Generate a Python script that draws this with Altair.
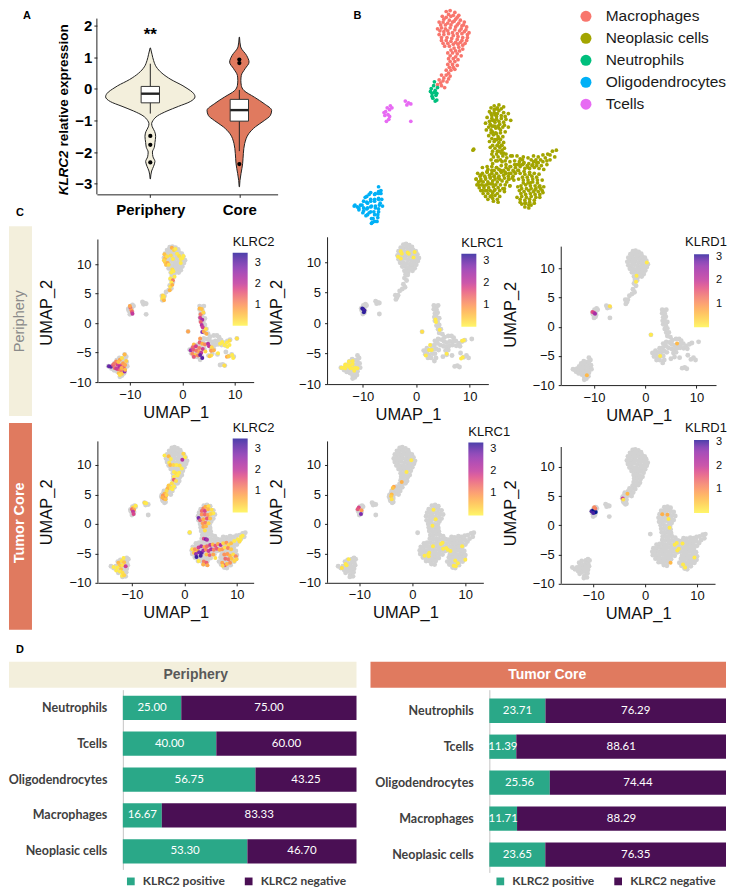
import altair as alt
import pandas as pd

# ---------- panel A ----------
VIOLIN_P_Y = [1.3,1.1,.9,.7,.5,.3,.1,0,-.1,-.25,-.4,-.55,-.7,-.85,-1,-1.1,-1.2,-1.35,-1.5,-1.7,-1.85,-2.0,-2.15,-2.3,-2.45,-2.6,-2.85]
VIOLIN_P_W = [.002,.019,.037,.067,.131,.232,.367,.423,.472,.502,.449,.318,.187,.082,.03,.015,.022,.049,.06,.052,.045,.024,.03,.052,.037,.015,.002]
VIOLIN_C_Y = [1.64,1.33,1.06,.85,.64,.43,.27,.11,-.05,-.26,-.47,-.68,-.84,-1,-1.2,-1.42,-1.73,-2.05,-2.37,-2.68,-2.9,-3.1]
VIOLIN_C_W = [.002,.015,.082,.109,.064,.022,.017,.022,.052,.169,.281,.363,.348,.281,.18,.105,.06,.045,.037,.019,.007,.002]
BOX = [dict(c=1,q1=-.44,q3=.08,med=-.15,lo=-.78,hi=.8,w=.103),dict(c=2,q1=-1.02,q3=-.33,med=-.67,lo=-1.97,hi=-.03,w=.103)]
OUTLIERS = [(1,-1.49),(1,-1.77),(1,-2.33),(2,.93),(2,.82),(2,-2.38)]

# ---------- UMAP cell coordinates ----------
MACRO_TOP = [(-2.4,12.9),(-1.9,13),(-1.3,12.8),(-0.8,12.5),(-2.9,12.4),(-2.4,12.3),(-1.8,12.4),(-1.2,12.1),(-0.6,12),(-0.1,11.8),(-3.3,11.8),(-2.8,11.8),(-2.2,11.7),(-1.6,11.8),(-1,11.5),(-0.4,11.4),(0.2,11.3),(-3.5,11.1),(-3,11.2),(-2.5,11.1),(-1.9,11.2),(-1.3,11),(-0.7,10.9),(-0.1,10.8),(0.5,10.7),(-3.3,10.5),(-2.7,10.5),(-2.1,10.6),(-1.5,10.4),(-0.9,10.3),(-0.3,10.2),(0.3,10.2),(-3,9.9),(-2.4,9.9),(-1.8,9.8),(-1.2,9.7),(-0.6,9.7),(0,9.6),(-2.6,9.3),(-2,9.3),(-1.4,9.1),(-0.8,9.2),(-0.3,9)]
MACRO_TAIL_CORE = [(-2.2,8.6),(-1.6,8.6),(-1,8.5),(-0.5,8.3),(-2.1,8),(-1.5,8),(-0.9,7.9),(-2.2,7.4),(-1.6,7.4),(-1,7.3),(-2.4,6.8),(-1.8,6.8),(-1.3,6.9),(-3,6.3),(-2.4,6.3),(-1.9,6.2),(-3.3,5.8),(-2.8,5.7),(-2.3,5.6),(-3.5,5.3),(-3,5.2),(-2.6,5)]
MACRO_TAIL_PERI = [(-2.2,8.6),(-1.7,9),(-1.1,8.9),(-0.7,8.6),(-1.5,8.4),(-2,8),(-1.6,7.9),(-2.2,7.4),(-1.8,7),(-2.4,6.4),(-2.1,5.9),(-2.6,5.6),(-3.1,5.3)]
MACRO_EXTRA_B = [(-2.1,12.6),(-1.5,12.5),(-1,12.3),(-2.7,12.1),(-2,12),(-1.4,11.9),(-0.8,11.7),(-0.2,11.5),(-3.1,11.5),(-2.5,11.5),(-1.8,11.5),(-1.2,11.3),(-0.5,11.1),(0.1,11),(-3.2,10.9),(-2.7,10.8),(-2.2,10.9),(-1.6,10.7),(-1,10.6),(-0.4,10.6),(0.3,10.5),(-3,10.2),(-2.3,10.2),(-1.7,10.1),(-1,10),(-0.4,9.9),(0.2,9.9),(-2.8,9.6),(-2.2,9.6),(-1.5,9.5),(-0.9,9.5),(-0.3,9.4),(-1.8,8.9),(-1.2,8.8),(-0.7,8.8),(-1.9,8.3),(-1.2,8.2),(-1.9,7.7),(-1.3,7.7),(-2,7.1),(-1.5,7.1),(-2.1,6.5),(-2.7,6),(-2.1,5.9),(-3.1,5.5)]
NEUT = [(-4,5.2),(-4.3,4.9),(-3.8,4.7),(-4.2,4.4),(-3.7,4.2),(-4.1,3.9),(-3.6,3.7),(-3.9,4.5),(-4.4,4.6),(-3.5,5),(-3.9,5.6),(-3.6,4.4),(-4.2,4.1),(-3.8,3.6)]
NEUT_PERI = [(-3.9,4.6),(-3.6,4.2),(-3.4,4.6),(-3.8,3.9)]
TCELL = [(-10.1,2.5),(-9.8,2.2),(-9.6,2.7),(-10.3,2.4),(-9.9,2.9),(-9.5,3.1),(-10.2,2.1),(-9.7,1.7),(-9.3,2.9),(-9.6,2.0),(-10,1.5),(-7.6,3.6),(-7.2,3.4),(-7.4,3.2),(-6.9,3.3),(-6.9,1.5)]
OLIGO_PERI = [(-14.1,-7.3),(-13.7,-7.4),(-13.3,-7.2),(-13.5,-7.7),(-12.9,-6.8),(-12.9,-7.5),(-13,-8),(-12.5,-6.3),(-12.4,-7),(-12.5,-7.6),(-12.4,-8.2),(-12,-5.9),(-12,-6.6),(-11.9,-7.3),(-12,-7.9),(-11.9,-8.6),(-11.5,-6.1),(-11.5,-6.8),(-11.4,-7.5),(-11.5,-8.2),(-11.5,-8.9),(-11,-5.3),(-11,-6),(-11,-6.6),(-10.9,-7.2),(-11,-7.9),(-11.1,-8.5),(-10.6,-6.6),(-10.5,-7.3),(-11.9,-9.1),(-10.7,-5.7)]
OLIGO_CORE = [(-14,-7.2),(-13.5,-7.5),(-13.1,-7.2),(-12.9,-7.8),(-12.5,-6.9),(-12.4,-7.5),(-12.7,-6.4),(-12.2,-6.1),(-12,-6.8),(-12,-7.4),(-12.2,-8),(-11.7,-8.6),(-11.4,-6),(-11.5,-6.6),(-11.4,-7.3),(-11.6,-7.9),(-11.2,-8.9),(-11.1,-8.2),(-11,-6.5),(-10.8,-7),(-11,-5.8),(-11,-7.6),(-12.6,-8.3),(-10.7,-6),(-11.8,-9)]
NEO_PERI = [(3.3,2.9),(3.7,2.7),(4.1,2.9),(3.3,2.3),(3.8,2.2),(3.5,1.6),(4,1.7),(3.4,1),(3.8,1),(4.3,.8),(3.5,.4),(4,.2),(3.8,-.4),(4.3,-.3),(4.1,-1),(4.6,-1),(4.3,-1.6),(4.9,-1.8),(5.3,-2.3),(6,-2.1),(6.6,-2.1),(7,-2.4),(3.5,-2.9),(4.1,-2.6),(4.7,-2.7),(5.2,-3),(5.7,-3.2),(6.3,-3),(6.9,-3),(7.4,-2.9),(8,-3.3),(8.6,-3),(9.1,-2.8),(2.8,-3.7),(3.4,-3.6),(4,-3.3),(4.5,-3.6),(5.1,-3.8),(5.6,-3.9),(6.2,-3.7),(6.8,-3.6),(7.5,-3.7),(8.2,-3.8),(2,-4.1),(1.4,-4.5),(2,-4.7),(2.6,-4.4),(3.2,-4.3),(3.7,-4.2),(4.2,-4.4),(1.7,-5.1),(2.4,-5.2),(3,-5),(3.5,-5),(2.2,-5.7),(2.8,-5.7),(3.4,-6.2),(3.7,-5.7),(5.5,-4.5),(6,-4.4),(5.7,-5.2),(5,-5.5),(6.7,-5.3),(8.3,-4.9),(8.9,-5.6),(9.4,-5.3),(9.8,-5.7),(7.2,-7.1),(7.7,-7),(8.1,-7.2),(10.4,-2.6),(1.1,-1.4)]
NEO_HEAD = [(3.7,3.1),(4.3,3.2),(4.9,3),(3.1,2.5),(3.7,2.4),(4.3,2.6),(4.9,2.4),(5.5,2.3),(2.8,1.9),(3.4,1.8),(4,2),(4.6,1.8),(5.2,1.7),(5.8,1.6),(2.6,1.3),(3.2,1.2),(3.8,1.4),(4.4,1.2),(5,1.1),(5.5,.9),(2.7,.6),(3.3,.6),(3.9,.8),(4.5,.6),(5.1,.4),(3,.0),(3.6,.1),(4.2,-.1),(4.8,-.1),(3.1,-.6),(3.7,-.6),(4.3,-.7),(4.9,-.7),(3.2,-1.2),(3.8,-1.3),(4.4,-1.2),(5,-1.3),(1,-1.5)]
NEO_BODY = [(3.4,-1.9),(4,-1.9),(4.6,-1.8),(5.2,-1.9),(5.8,-2.1),(7.4,-2.2),(8,-2.3),(8.7,-2.1),(9.3,-2.2),(9.9,-2),(10.5,-1.9),(11.1,-1.6),(11.6,-1.5),(11.4,-2.2),(10.8,-2.5),
 (3.3,-2.5),(3.9,-2.6),(4.5,-2.5),(5.1,-2.6),(5.7,-2.7),(6.3,-2.6),(6.9,-2.7),(7.5,-2.8),(8.1,-2.9),(8.7,-2.7),(9.3,-2.8),(9.9,-2.7),(10.4,-3),
 (2.2,-3.3),(2.8,-3.2),(3.4,-3.2),(4,-3.3),(4.6,-3.1),(5.2,-3.3),(5.8,-3.2),(6.4,-3.3),(7,-3.2),(7.6,-3.4),(8.2,-3.4),(8.8,-3.3),(9.4,-3.4),(10,-3.5),
 (1.6,-3.9),(2.2,-3.9),(2.8,-3.8),(3.4,-3.9),(4,-3.9),(4.6,-3.8),(5.2,-3.9),(5.8,-3.9),(6.4,-3.9),(7,-3.9),(7.6,-4),(8.2,-4),(8.8,-3.9),(9.4,-4),
 (1.4,-4.5),(2,-4.5),(2.6,-4.5),(3.2,-4.4),(3.8,-4.5),(4.4,-4.5),(5,-4.4),(5.6,-4.5),(6.2,-4.6),(6.8,-4.5),(7.4,-4.6),(8,-4.6),(8.6,-4.5),(9.2,-4.6),(9.8,-4.6),
 (1.5,-5.1),(2.1,-5.1),(2.7,-5.1),(3.3,-5),(3.9,-5.1),(4.5,-5.1),(5.1,-5.1),(5.7,-5.2),(7.1,-5.2),(7.7,-5.1),(8.3,-5.2),(8.9,-5.2),(9.5,-5.2),(10,-5.3),
 (2,-5.7),(2.6,-5.7),(3.2,-5.7),(3.8,-5.6),(4.4,-5.7),(5,-5.8),(6.9,-5.7),(7.5,-5.8),(8.1,-5.7),(8.7,-5.8),(9.3,-5.8),(9.9,-5.9),
 (2.6,-6.3),(3.2,-6.3),(3.8,-6.2),(4.4,-6.3),(6.6,-6.4),(7.2,-6.3),(7.8,-6.4),(8.4,-6.3),(9,-6.4),(9.5,-6.4),
 (3.6,-6.8),(4.2,-6.9),(7,-6.9),(7.6,-7),(8.2,-6.9),(8.8,-7),(7.6,-7.4),(8.1,-7.5)]
NEO_EXTRA_B = [(2.9,-3.5),(3.7,-3.6),(4.3,-3.5),(4.9,-3.6),(5.5,-3.5),(6.1,-3.6),(6.7,-3.6),(1.9,-4.2),(2.5,-4.2),(3.1,-4.1),(3.7,-4.2),(4.3,-4.2),(4.9,-4.1),(5.5,-4.2),(6.1,-4.2),(7.3,-4.3),(7.9,-4.3),(8.5,-4.2),(9.1,-4.3),(1.7,-4.8),(2.3,-4.8),(2.9,-4.8),(3.5,-4.7),(4.1,-4.8),(4.7,-4.7),(5.3,-4.8),(7.4,-4.9),(8,-4.9),(8.6,-4.8),(9.2,-4.9),(1.8,-5.4),(2.4,-5.4),(3,-5.4),(3.6,-5.3),(4.2,-5.4),(4.8,-5.5),(7.2,-5.5),(7.8,-5.5),(8.4,-5.5),(9,-5.5),(9.6,-5.5),(2.3,-6),(2.9,-6),(3.5,-5.9),(4.1,-6),(7.1,-6),(7.7,-6.1),(8.3,-6),(8.9,-6.1),(9.5,-6.1),(2.9,-6.6),(3.5,-6.5),(4.1,-6.6),(7,-6.6),(7.6,-6.7),(8.2,-6.6),(8.8,-6.7),(8.4,-7.2),(7.3,-2.5),(8.4,-2.5),(9,-2.5),(9.6,-2.5),(10.2,-2.3),(10.8,-2),(6.6,-3),(7.3,-3),(7.9,-3.1),(8.5,-3.1),(9.1,-3.1),(9.7,-3.1),(3.6,-2.2),(4.2,-2.2),(4.8,-2.1),(3.5,-1.6),(4.1,-1.6),(4.7,-1.5),(3.5,-1),(4.1,-1),(4.7,-1),(3.4,-.3),(4,-.4),(4.5,-.4),(3.3,.3),(3.9,.3),(4.5,.3),(3,.9),(3.6,1),(4.2,1),(4.8,.9),(3.1,1.5),(3.7,1.6),(4.3,1.5),(4.9,1.4),(3.4,2.1),(4.1,2.3),(4.6,2.1),(5.1,2),(4,2.8),(4.6,2.8)]

KLRC2_PERI = [(-3.4,11.7,.5),(-3.3,11,.6),(-3.3,10.4,.4),(-3.1,9.9,.5),(-3.5,10.7,.3),(-2.9,11.3,.2),(-2.8,10.2,.7),(-2.6,9.9,.2),(-2,12.8,.7),(-1.6,12.4,.3),(-1.3,12.6,.1),(-1,11.8,.1),(-0.6,11.4,.2),(-0.3,10.9,.1),(0,11,.1),(0.2,11.4,.1),(-0.3,10.2,.1),(-1.8,10.9,.1),(-2.2,11.5,.2),(-1.9,9.1,.2),(-1.7,8.8,.1),(-2.1,8.6,.1),(-1.5,7.9,.1),(-2.3,7.6,.1),(-1.8,7.3,1.2),(-2.1,6.9,.1),(-2.3,6.2,.2),(-1.9,6.5,.7),(-2.4,5.6,.6),(-3.7,4.7,.3),(-3.8,4.2,.2),(-3.5,3.9,.6),(-3.5,4.5,.2),
 (-9.9,2.6,1.4),(-9.7,2.2,.9),(-9.6,1.9,1.6),(-9.5,1.6,2),(-10,2.9,.8),
 (3.3,2.5,.6),(3.7,2.4,.5),(3.5,1.5,1.2),(4,1.8,.3),(3.4,.9,1.9),(3.8,.6,2.4),(3.5,.2,1.5),(3.7,-.3,2.2),(3.9,-.7,1.9),(3.8,-1.5,2.8),(4.1,-1.4,.8),(4.5,-1,.2),(4.6,-1.8,.7),(1.1,-1.4,.8),
 (3.4,-2.6,.9),(2.2,-3.6,.6),(3.3,-3.3,1.5),(3.8,-3.5,.7),(4.3,-3.6,1.1),(4.9,-3.5,2.2),(5.1,-3.9,2),(5.6,-4.1,.3),(2,-4.1,1.4),(2.6,-3.9,1.9),(3.2,-4.2,1.2),(3.9,-4.4,1.9),(4.4,-4.8,.3),(1.6,-4.6,2.4),(2.1,-4.5,1.6),(2.7,-4.7,1.3),(3.2,-4.9,.8),(3.6,-5,2),(1.9,-5.2,1.1),(2.5,-5.4,.5),(3,-5.5,1.2),(3.4,-5.4,3),(3.8,-5.9,3.2),(2.2,-5.7,1.6),(5.5,-4.7,.9),(6,-4.6,.7),(5.5,-5.5,.2),(5.2,-5.6,.4),(6.8,-5.1,.1),(7.2,-3.5,.1),(7.6,-3.2,.1),(8,-3.7,.1),(8.5,-3.3,.1),(9,-3,.2),(8.6,-4,.1),(9,-3.7,.1),(10.4,-2.6,.2),(8.5,-5.7,.8),(8.8,-5.6,.4),(9.5,-5.4,.1),(9.7,-5.9,.1),(8,-7.2,.2),
 (-14,-7.3,3),(-13.6,-7.4,3.1),(-13.2,-7.1,1.6),(-12.9,-7.6,1.3),(-12.6,-6.5,1.1),(-12.4,-7,1.8),(-12.3,-7.8,1.5),(-12.1,-8.5,.5),(-11.9,-6.2,.8),(-11.8,-7.2,1.6),(-11.7,-8,1.2),(-11.5,-8.6,.4),(-11.3,-6.8,.9),(-11.2,-7.5,1.5),(-11,-8.2,2.6),(-10.9,-7.1,.8),(-10.7,-6.4,.4),(-11,-5.3,.6),(-11.5,-5.9,.2),(-12,-7.4,2.2),(-11.6,-7.6,.7),(-12.6,-7.7,1.9),(-13,-6.9,1.3),(-11.9,-8.8,.2),(-12.2,-6.6,.5),(-10.9,-7.9,.6)]
KLRC2_CORE = [(-3.8,11.6,.1),(-3,11.5,.6),(-2.6,11,.1),(-0.2,11.9,.3),(0.1,11.3,.1),(-0.4,10.9,2.2),(-2.9,10.4,.1),(-2.7,10,.6),(-2.1,10,.3),(-1.5,10,.1),(-0.9,9.9,.2),(-0.5,9.4,.1),(-2,8.8,.1),(-1.6,8.6,.2),(-1,8.7,.1),(-2,8,.1),(-1.3,8.2,.1),(-2,7.5,1.5),(-1.6,7.3,.2),(-2.4,6.9,.2),(-2,6.4,.1),(-3,6.5,.4),(-3.2,6,.6),(-2.6,6.1,.2),(-2.3,5.9,.1),(-3.4,5.6,.2),(-3.8,5.1,.6),(-4.1,4.8,1),(-3.6,4.7,.9),(-3.9,4.3,1.2),(-4.2,4.5,.7),(-3.6,4.2,.5),(-3.4,4.9,.3),
 (-9.8,2.8,.3),(-10,2.5,1.4),(-9.6,2.4,.7),(-9.8,2.1,2),(-9.7,1.7,1.8),(-9.3,3.1,.1),(-7.6,3.6,.2),(-7.3,3.5,.1),
 (-11.6,-5.8,.1),(-12,-6.3,.2),(-12.6,-6.6,.6),(-11.5,-6.5,.5),(-12.3,-7,.4),(-11.8,-7,.2),(-11.2,-7.2,1.9),(-12.8,-7.4,.1),(-13.5,-7.3,.1),(-12.1,-7.7,.5),(-12.3,-8.1,.1),(-11.8,-8.3,.2),(-11.9,-8.8,.1),(-11.5,-8.7,.3),(-13,-7.9,.1),
 (1,-1.4,.1),(3.6,2.6,1.2),(4,2.9,.7),(4.6,3,.2),(3.3,2.2,1.4),(3.9,2.2,1.8),(4.5,2.5,.6),(5.2,2.4,.2),(5.5,1.8,.1),(2.7,1,2.9),(3.3,1.6,1),(3.9,1.6,1.4),(4.5,1.5,.9),(5,1.7,.3),(3,.6,1.5),(3.6,.8,.7),(4.3,.9,1.6),(4.9,.9,.5),(3.5,.1,.9),(4,.2,1.2),(4.6,.1,.3),(3.6,-.5,.8),(4.1,-.4,.6),(3.9,-1.1,.2),(3.7,-2.5,1.8),(4.1,-2.6,3),(4.3,-2.7,2.4),
 (1.5,-4.3,.2),(2,-4.3,1),(2.5,-4.6,.7),(1.8,-4.9,.5),(2.7,-4,1.9),(3.2,-3.8,2.3),(3.8,-3.9,.8),(4.3,-3.8,1.4),(4.9,-3.6,2),(5.4,-3.5,.6),(5.9,-3.7,1.6),(6.4,-3.4,.8),(6.9,-3.6,2.2),(7.4,-3.3,.3),(8,-3.2,1),(8.4,-3.6,.3),(8.9,-3.3,.5),(2.2,-5.1,2.6),(2.8,-4.8,2.8),(3.3,-4.9,3.2),(3.1,-5.4,3.3),(2.3,-5.6,3.4),(3.6,-4.5,2.5),(4.1,-4.4,1.1),(4.6,-4.6,1.9),(5.1,-4.3,2.3),(5.6,-4.4,1.2),(6.2,-4.2,1.6),(6.7,-4.4,.7),(7.2,-4.3,.9),(7.7,-4,.2),(8.3,-4.1,1.1),(8.9,-4.3,.4),(4.2,-5.2,.5),(4.8,-5.3,1.5),(5.5,-5.2,.8),(7.6,-5.2,1),(8.2,-5.1,.9),(8.7,-5.4,.6),(9.3,-5.2,.2),(9.8,-5.5,1.1),(9.9,-6,.3),(3.7,-6.4,1.2),(4.2,-6.6,1.5),(3.6,-6.9,.7),(4.4,-7,.8),(2.7,-6.3,.1),(7.8,-5.9,1.4),(8.4,-6,1.3),(9,-5.9,.5),(9.5,-6.3,.3),(7.2,-6.6,.8),(7.7,-7,1.6),(8.1,-6.8,.6),(8.7,-6.6,1),(7.3,-7.1,.3),(10.2,-2.6,.1),(10.7,-2.7,.1),(11.1,-2,.1),(10.5,-3,.2),(10.8,-2.2,.1),(9.5,-2.9,.1),(5.9,-5.8,.2)]
KLRC1_PERI = [(-2.9,11.8,.1),(-2.7,11.4,.1),(-1.6,11.6,.1),(-1.4,11.4,.1),(-0.3,11.7,.1),(-3.4,10.9,.1),(-2.9,10.6,.1),(-0.5,10.8,.1),(-10.1,2.4,3.3),(-9.9,2.3,3.3),(-9.7,2.1,3.2),(-9.8,1.8,3.3),(3.6,.6,.1),(3.7,.2,.1),(4.4,-1.1,.1),(1.1,-1.4,.2),(2.6,-3.6,.1),(2.4,-4.4,.1),(2.9,-4.4,.1),(1.8,-5.3,.1),(5.7,-5,.1),(8.6,-2.9,.1),(8.9,-2.8,.1),(8.4,-5.8,.1),(8.7,-5.6,.1),(-14,-7.3,.1),(-13.6,-7.3,.1),(-13.3,-7.4,.1),(-13.3,-6.8,.1),(-12.9,-6.9,.1),(-12.6,-6.3,.1),(-12.4,-6.9,.1),(-12.3,-7.4,.1),(-11.9,-6.7,.1),(-11.8,-7.4,.1),(-11.4,-7.3,.1),(-11,-7.4,.1),(-11.6,-7.8,.1),(-12.6,-7.1,.1),(-11.9,-6.2,.1)]
KLRC1_CORE = [(-0.2,10.8,.1),(-1.1,8.8,.1),(-2,7.1,.7),(-3.5,6.3,.8),(-3.7,6.1,.5),(-3.9,5,.6),(-4,4.7,.4),(-3.9,4.2,.2),(-10.1,2.8,1.8),(-10.3,2.5,1.6),(-9.6,2.3,.9),(-9.7,1.7,2.8),(4,2.4,.1),(4.4,.8,.1),(3.8,-.3,.1),(-12,-6,.1),(-12.6,-6.8,.1),(-12.4,-7,.1),(-13.3,-7.5,.2),(5.4,-3.4,.1),(5.7,-3.2,.1),(3.9,-3.8,.1),(2.3,-5.4,.1),(3,-5.2,.1),(3.2,-4.9,.1),(3.1,-5.5,.1),(5.8,-4.2,.1),(6.4,-4.1,.1),(6.7,-4.4,.1),(7.2,-4.6,.1),(9.4,-3.8,.1),(8.1,-6.2,.1),(10,-6.1,.1),(8.6,-6.7,.1),(7.8,-7.1,.1),(8.2,-7.2,.1)]
KLRD1_PERI = [(0.3,11,.1),(-1.7,8.7,.1),(-1.8,7.7,.1),(-6.9,3.5,.2),(-10.3,2.5,1.7),(-10,2.4,1.9),(-9.8,2.2,2.4),(1.1,-1.4,.1),(6.2,-2.9,.6),(2.9,-5,.1),(-11.4,-8.3,.6)]
KLRD1_CORE = [(-3.4,5.4,.6),(-4.3,4.6,1.9),(-4.2,4.4,.2),(-10.1,2.5,3.2),(-10.3,2.4,3),(-9.9,2.6,3.3),(-9.7,2.2,3.2),(-9.5,2.3,3.3),(-9.6,2.9,1.3),(-9.8,3.1,1.1),(-10,2.1,3),(3.3,1.9,.7),(4.3,1.8,.7),(4.5,1.1,.1),(4.7,-.4,.1),(5.7,-3.3,.1),(6.1,-3,.1),(7.2,-3.1,.1),(6.5,-4,.1),(6.2,-4.3,.1),(9.5,-5.5,.1),(4.9,-6.4,.6),(7.3,-6.7,.1),(7.7,-7.2,.1)]

CELL_TYPES = ["Macrophages","Neoplasic cells","Neutrophils","Oligodendrocytes","Tcells"]
CELL_COLORS = ["#F8766D","#A3A500","#00BF7D","#00B0F6","#E76BF3"]
PLASMA = ["#fff44f","#fdb04a","#f0786a","#c23a9b","#8a2fb0","#2a1f9c"]

# ---------- panel D ----------
BAR_CATS = ["Neutrophils","Tcells","Oligodendrocytes","Macrophages","Neoplasic cells"]
POS_PERI = [25.00,40.00,56.75,16.67,53.30]
NEG_PERI = [75.00,60.00,43.25,83.33,46.70]
POS_CORE = [23.71,11.39,25.56,11.71,23.65]
NEG_CORE = [76.29,88.61,74.44,88.29,76.35]

FONT = "Liberation Sans"
AXC = "#222222"


def spacer(w, h=1):
    return alt.Chart(pd.DataFrame({"s": [""]})).mark_text(opacity=0, fontSize=1, baseline="top", align="left").encode(
        text="s:N", x=alt.value(0), y=alt.value(0)).properties(width=w, height=h)


def xy(points):
    return pd.DataFrame(points, columns=["x", "y"])


def note(text, px, py, **kw):
    opts = dict(font=FONT, fontWeight="bold", fontSize=14, color="black", align="center", baseline="middle")
    opts.update(kw)
    return alt.Chart(pd.DataFrame({"t": [text]})).mark_text(**opts).encode(
        text="t:N", x=alt.value(px), y=alt.value(py))


# ---------- panel A ----------
def panel_a():
    w, h = 181, 186
    xs = alt.Scale(domain=[.4, 2.43], zero=False, nice=False)
    ys = alt.Scale(domain=[-3.34, 2.546], zero=False, nice=False)
    xa = alt.Axis(values=[1, 2], labelExpr="datum.value == 1 ? 'Periphery' : 'Core'", title=None, grid=False,
                  labelFont=FONT, labelFontSize=15, labelFontWeight="bold", labelColor="black", labelPadding=5,
                  tickSize=3, tickColor=AXC, domainColor=AXC, labelAngle=0, labelFlush=False, labelOverlap=False)
    ya = alt.Axis(values=[-3, -2, -1, 0, 1, 2], title=None, grid=False, domain=False, labelFont=FONT, labelFontSize=15,
                  labelFontWeight="bold", labelColor="black", tickSize=3, tickColor=AXC, labelPadding=2, labelOverlap=False)
    X = lambda f: alt.X(f, scale=xs, axis=xa)
    Y = lambda f: alt.Y(f, scale=ys, axis=ya)
    rows = []
    for c, ys_, ws, col in [(1, VIOLIN_P_Y, VIOLIN_P_W, "#f3efdc"), (2, VIOLIN_C_Y, VIOLIN_C_W, "#e07a5f")]:
        rows.append(pd.DataFrame({"y": ys_, "lo": [c - v for v in ws], "hi": [c + v for v in ws], "col": col}))
    base = []
    for d in rows:
        ch = alt.Chart(d).mark_area(orient="horizontal", interpolate="monotone", stroke="#222222", strokeWidth=1,
                                    fill=d["col"][0]).encode(x=X("lo:Q"), x2="hi:Q", y=Y("y:Q"))
        base.append(ch)
    b = pd.DataFrame(BOX)
    b["l"] = b.c - b.w
    b["r"] = b.c + b.w
    whisk = alt.Chart(b).mark_rule(color="#222222", strokeWidth=1).encode(x=X("c:Q"), y=Y("lo:Q"), y2="hi:Q")
    rect = alt.Chart(b).mark_rect(fill="white", stroke="#333333", strokeWidth=1).encode(x=X("l:Q"), x2="r:Q", y=Y("q1:Q"), y2="q3:Q")
    med = alt.Chart(b).mark_rule(color="#222222", strokeWidth=2.4).encode(x=X("l:Q"), x2="r:Q", y=Y("med:Q"))
    out = alt.Chart(pd.DataFrame(OUTLIERS, columns=["c", "y"])).mark_circle(color="black", size=18, opacity=1).encode(x=X("c:Q"), y=Y("y:Q"))
    star = alt.Chart(pd.DataFrame({"c": [1], "y": [1.72], "t": ["**"]})).mark_text(font=FONT, fontSize=17, fontWeight="bold", color="black").encode(
        x=X("c:Q"), y=Y("y:Q"), text="t:N")
    yline = alt.Chart(pd.DataFrame({"a": [-3.34], "b": [2.23]})).mark_rule(color=AXC).encode(x=alt.value(0), y=Y("a:Q"), y2="b:Q")
    t1 = note("KLRC2", -33, 187, fontSize=13.5, fontStyle="italic", angle=270, align="left")
    t2 = note("relative expression", -33, 138, fontSize=13.5, angle=270, align="left")
    la = note("A", -70, 7, fontSize=11)
    lc = note("C", -77, 205, fontSize=11)
    return alt.layer(*base, whisk, rect, med, out, star, yline, t1, t2, la, lc).properties(width=w, height=h)


# ---------- panel B ----------
def panel_b():
    parts = [("Macrophages", MACRO_TOP + MACRO_TAIL_CORE + MACRO_EXTRA_B), ("Neoplasic cells", NEO_HEAD + NEO_BODY + NEO_PERI + NEO_EXTRA_B),
             ("Neutrophils", NEUT), ("Oligodendrocytes", OLIGO_PERI + OLIGO_CORE), ("Tcells", TCELL)]
    frames = []
    for name, pts in parts:
        d = xy(pts)
        d["cell"] = name
        frames.append(d)
    df = pd.concat(frames)
    pts = alt.Chart(df).mark_circle(size=14, opacity=1).encode(
        x=alt.X("x:Q", scale=alt.Scale(domain=[-15.2, 14], zero=False, nice=False), axis=None),
        y=alt.Y("y:Q", scale=alt.Scale(domain=[-9.2, 13.2], zero=False, nice=False), axis=None),
        color=alt.Color("cell:N", scale=alt.Scale(domain=CELL_TYPES, range=CELL_COLORS),
                        legend=alt.Legend(orient="none", legendX=233, legendY=0, title=None, labelFont=FONT, labelFontSize=15.5,
                                          labelColor="#1a1a1a", symbolSize=121, symbolType="circle", symbolStrokeWidth=0,
                                          rowPadding=5, labelOffset=12, symbolOpacity=1, labelLimit=200)))
    return alt.layer(pts, note("B", 12, 7, fontSize=11)).properties(width=230, height=216)


# ---------- UMAP feature panels ----------
def umap(grey, colored, name, w, h, xdom, ytop, yaxis_top, lx, ly, cmax, ty, glen=73, title_at=None):
    xs = alt.Scale(domain=xdom, zero=False, nice=False)
    ys = alt.Scale(domain=[-10, ytop], zero=False, nice=False)
    xa = alt.Axis(values=[-10, 0, 10], title="UMAP_1", grid=False, labelFont=FONT, labelFontSize=13, labelColor="#111111",
                  titleFont=FONT, titleFontSize=16.5, titleFontWeight="normal", titleColor="#111111", titlePadding=3,
                  tickSize=3, tickColor=AXC, domainColor=AXC, labelPadding=3, labelFlush=False, labelOverlap=False)
    ya = alt.Axis(values=[-10, -5, 0, 5, 10], title="UMAP_2", grid=False, domain=False, labelFont=FONT, labelFontSize=13,
                  labelColor="#111111", titleFont=FONT, titleFontSize=16.5, titleFontWeight="normal", titleColor="#111111",
                  titleX=-43, titleY=ty, tickSize=3, tickColor=AXC, labelPadding=4, labelFlush=False, labelOverlap=False)
    X = alt.X("x:Q", scale=xs, axis=xa)
    Y = alt.Y("y:Q", scale=ys, axis=ya)
    g = alt.Chart(xy(grey)).mark_circle(size=24, color="#d2d2d2", opacity=1).encode(x=X, y=Y)
    stops = [0, .7, 1.3, 2, 2.7, cmax]
    leg = dict(orient="none", legendX=lx, legendY=ly, titleFont=FONT, titleFontSize=13,
               titleFontWeight="normal", titleColor="#111111", titlePadding=4, labelFont=FONT,
               labelFontSize=11, labelColor="#111111", values=[1, 2, 3], gradientLength=glen,
               gradientThickness=15, gradientOpacity=.85, gradientStrokeWidth=0, labelOffset=7)
    leg["title"] = None if title_at else name
    c = alt.Chart(pd.DataFrame(colored, columns=["x", "y", "v"])).mark_circle(size=16, opacity=1).encode(
        x=X, y=Y,
        color=alt.Color("v:Q", scale=alt.Scale(domain=stops, range=PLASMA), legend=alt.Legend(**leg)))
    line = alt.Chart(pd.DataFrame({"y": [-10], "b": [yaxis_top]})).mark_rule(color=AXC).encode(
        x=alt.value(0), y=Y, y2="b:Q")
    layers = [g, c, line]
    if title_at:
        layers.append(note(name, title_at[0], title_at[1], fontSize=13, fontWeight="normal", color="#111111", align="left"))
    return alt.layer(*layers).properties(width=w, height=h)


def strip(text, h, fill, color, weight, cy):
    rect = alt.Chart(pd.DataFrame({"s": [0]})).mark_rect(fill=fill).encode(
        x=alt.value(0), x2=alt.value(23), y=alt.value(0), y2=alt.value(h))
    return alt.layer(rect, note(text, 11, cy, fontSize=14.5, color=color, fontWeight=weight, angle=270)).properties(width=23, height=h)


# ---------- panel D ----------
def bars(pos, neg, banner, banner_fill, banner_color, bx0, bx1, tx, h, scale_kw, width, extras=None, lx=0):
    rows = []
    for c, p, n in zip(BAR_CATS, pos, neg):
        rows.append(dict(cat=c, kind="KLRC2 positive", a=0, b=p, v=f"{p:.2f}"))
        rows.append(dict(cat=c, kind="KLRC2 negative", a=p, b=p + n, v=f"{n:.2f}"))
    d = pd.DataFrame(rows)
    d["m"] = (d.a + d.b) / 2
    xs = alt.Scale(domain=[0, 100], nice=False, zero=False)
    ys = alt.Scale(domain=BAR_CATS, **scale_kw)
    bar = alt.Chart(d).mark_bar().encode(
        x=alt.X("a:Q", scale=xs, axis=None), x2="b:Q",
        y=alt.Y("cat:N", scale=ys, sort=BAR_CATS, title=None,
                axis=alt.Axis(ticks=False, domainColor="#c4c4c4", labelFont="Lato", labelFontWeight="bold", labelFontSize=12.5,
                              labelColor="#404040", labelPadding=16, grid=False)),
        color=alt.Color("kind:N", scale=alt.Scale(domain=["KLRC2 positive", "KLRC2 negative"], range=["#2aa888", "#4a0f54"]),
                        legend=alt.Legend(orient="none", direction="horizontal", legendX=lx, legendY=186, title=None, symbolType="square",
                                          symbolSize=60, symbolStrokeWidth=0, labelFont="Lato", labelFontWeight="bold", labelFontSize=12,
                                          labelColor="#404040", columnPadding=17, labelOffset=6, symbolOpacity=1)))
    txt = alt.Chart(d).mark_text(font="Lato", fontSize=11.5, color="white").encode(
        x=alt.X("m:Q", scale=xs, axis=None), y=alt.Y("cat:N", scale=ys, sort=BAR_CATS, title=None), text="v:N")
    ban = alt.Chart(pd.DataFrame({"s": [0]})).mark_rect(fill=banner_fill).encode(
        x=alt.value(bx0), x2=alt.value(bx1), y=alt.value(-28), y2=alt.value(-2))
    layers = [ban, note(banner, tx, -15, fontSize=14, color=banner_color), bar, txt]
    if extras:
        layers += extras
    return alt.layer(*layers).properties(width=width, height=h)


grey_peri = MACRO_TOP + MACRO_TAIL_PERI + NEUT_PERI + TCELL + NEO_PERI + OLIGO_PERI
grey_core = MACRO_TOP + MACRO_TAIL_CORE + NEUT + TCELL + NEO_HEAD + NEO_BODY + OLIGO_CORE


def row(*cells):
    return alt.hconcat(*cells, spacing=0, bounds="flush").resolve_scale(color="independent").resolve_legend(color="independent")


row0 = row(spacer(88, 218), panel_a(), spacer(68), panel_b())

middle = alt.concat(
    strip("Periphery", 190, "#f3efdc", "#8a8a8a", "normal", 95), spacer(66, 197),
    umap(grey_peri, KLRC2_PERI, "KLRC2", 156, 156, [-16.1, 13.6], 16.44, 14.2, 135, 9.5, 3.48, 86), spacer(74),
    umap(grey_peri, KLRC1_PERI, "KLRC1", 161, 158, [-16.6, 13.5], 15.9, 14.1, 134, 10.5, 3.32, 86), spacer(73),
    umap(grey_peri, KLRD1_PERI, "KLRD1", 155, 159, [-16.4, 13.8], 17.18, 13.7, 133, 28, 3.1, 88, title_at=(124, 16)),
    strip("Tumor Core", 207, "#e07a5f", "white", "bold", 100), spacer(66, 221),
    umap(grey_core, KLRC2_CORE, "KLRC2", 156, 160, [-16.5, 13.2], 17.12, 14, 135, -1.5, 3.5, 89, 74), spacer(74),
    umap(grey_core, KLRC1_CORE, "KLRC1", 156, 160, [-16, 13.4], 17.12, 14, 141, 2.5, 3.3, 89), spacer(73),
    umap(grey_core, KLRD1_CORE, "KLRD1", 154, 161, [-16.15, 13.46], 17.5, 13.4, 133, 17, 3.1, 90, title_at=(124, 5)),
    columns=7, spacing=0, bounds="flush").resolve_scale(color="independent").resolve_legend(color="independent")

row3 = row(
    spacer(114),
    bars(POS_PERI, NEG_PERI, "Periphery", "#f3efdc", "#595959", -114, 234, 73, 180,
         dict(paddingInner=.325, paddingOuter=.167), 234, [note("D", -103, -40, fontSize=11)], lx=2),
    spacer(133),
    bars(POS_CORE, NEG_CORE, "Tumor Core", "#e07a5f", "white", -119, 237, 58, 183,
         dict(paddingInner=.325, paddingOuter=.204, align=.61), 237, lx=5))

chart = (alt.vconcat(row0, middle, row3, spacing=0).properties(padding=0)
         .resolve_scale(color="independent").resolve_legend(color="independent")
         .configure_view(stroke=None).configure_axis(labelOverlap=False))
chart.save("out.html", embed_options={"renderer": "svg", "actions": False})
